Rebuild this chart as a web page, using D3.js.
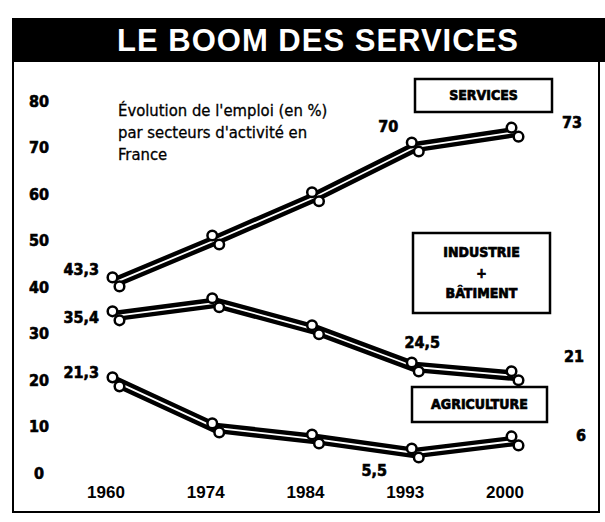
<!DOCTYPE html>
<meta charset="utf-8">
<style type="text/css">
body { margin: 0; background: #fff; }
svg text { fill: #000; }
.g-hed { font-family: 'Liberation Sans', Arial, sans-serif; font-weight: bold; font-size: 31px; letter-spacing: 1px; fill: #fff !important; }
.g-intro { font-family: 'Liberation Sans Narrow', 'DejaVu Sans Condensed', sans-serif; font-size: 16.5px; stroke: #000; stroke-width: 0.3px; }
.tick-y { font-family: 'Liberation Sans Narrow', 'DejaVu Sans Condensed', sans-serif; font-weight: bold; font-size: 16px; stroke: #000; stroke-width: 0.6px; }
.tick-x { font-family: 'Liberation Sans', Arial, sans-serif; font-weight: bold; font-size: 17px; }
.val { font-family: 'Liberation Sans Narrow', 'DejaVu Sans Condensed', sans-serif; font-weight: bold; font-size: 16px; stroke: #000; stroke-width: 0.6px; }
.leg { font-family: 'Liberation Sans Narrow', 'DejaVu Sans Condensed', sans-serif; font-weight: bold; font-size: 14px; stroke: #000; stroke-width: 0.7px; }
</style>
<script src="https://cdnjs.cloudflare.com/ajax/libs/d3/7.8.5/d3.min.js"></script>
<body>
<div class="g-chart"></div>
<script type="text/javascript">

// data
var years = ["1960", "1974", "1984", "1993", "2000"];
var yTicks = [0, 10, 20, 30, 40, 50, 60, 70, 80];
var services = [41.1, 50.1, 59.4, 70.1, 73.3];
var industrie = [33.8, 36.6, 30.8, 22.8, 20.9];
var agriculture = [19.6, 9.7, 7.3, 4.3, 6.9];
var servicesLabels = ["43,3", "", "", "70", "73"];
var industrieLabels = ["35,4", "", "", "24,5", "21"];
var agricultureLabels = ["21,3", "", "", "5,5", "6"];

var width = 605, height = 522;

var svg = d3.select(".g-chart").append("svg")
  .attr("width", width)
  .attr("height", height);

var x = d3.scalePoint().domain(years).range([106, 505]);
var y = d3.scaleLinear().domain([0, 80]).range([473, 101]);

// frame + title bar
svg.append("rect").attr("x", 13).attr("y", 19).attr("width", 586).attr("height", 493)
  .attr("fill", "none").attr("stroke", "#000").attr("stroke-width", 2);
svg.append("rect").attr("x", 12).attr("y", 18).attr("width", 593).attr("height", 44).attr("fill", "#000");
svg.append("text").attr("class", "g-hed").attr("x", 318).attr("y", 51)
  .attr("text-anchor", "middle").text("LE BOOM DES SERVICES");

// intro text
var intro = ["Évolution de l'emploi (en %)", "par secteurs d'activité en", "France"];
svg.selectAll("text.g-intro").data(intro).enter().append("text")
  .attr("class", "g-intro")
  .attr("x", 118)
  .attr("y", function(d, i) { return 116 + i * 22; })
  .text(function(d) { return d; });

// y tick labels
svg.selectAll("text.tick-y").data(yTicks).enter().append("text")
  .attr("class", "tick-y")
  .attr("x", 39)
  .attr("y", function(d) { return y(d); })
  .attr("dy", "0.35em")
  .attr("text-anchor", "middle")
  .text(function(d) { return d; });

// x tick labels
svg.selectAll("text.tick-x").data(years).enter().append("text")
  .attr("class", "tick-x")
  .attr("x", function(d) { return x(d); })
  .attr("y", 498)
  .attr("text-anchor", "middle")
  .text(function(d) { return d; });

// ribbons
var series = [
  { values: services, labels: servicesLabels,
    offs: [[-17, -12, "end"], null, null, [-27, -21, "middle"], [57, -10, "middle"]] },
  { values: industrie, labels: industrieLabels,
    offs: [[-17, 2, "end"], null, null, [7, -25, "middle"], [59, -19, "middle"]] },
  { values: agriculture, labels: agricultureLabels,
    offs: [[-17, -9, "end"], null, null, [-41, 17, "middle"], [66, -6, "middle"]] }
];

var line = d3.line()
  .x(function(d) { return x(d.year) + 10; })
  .y(function(d) { return y(d.value); });

series.forEach(function(s) {
  var pts = years.map(function(yr, i) { return { year: yr, value: s.values[i], label: s.labels[i], off: s.offs[i] }; });
  var g = svg.append("g");

  g.append("path").datum(pts).attr("d", line)
    .attr("fill", "none").attr("stroke", "#000").attr("stroke-width", 10.5)
    .attr("stroke-linejoin", "round");
  g.append("path").datum(pts).attr("d", line)
    .attr("fill", "none").attr("stroke", "#fff").attr("stroke-width", 1.8)
    .attr("stroke-linejoin", "round");

  // back circles then front circles
  g.selectAll("circle.back").data(pts).enter().append("circle")
    .attr("cx", function(d) { return x(d.year) + 13.5; })
    .attr("cy", function(d) { return y(d.value) + 4.5; })
    .attr("r", 4.8)
    .attr("fill", "#fff").attr("stroke", "#000").attr("stroke-width", 2.5);
  g.selectAll("circle.front").data(pts).enter().append("circle")
    .attr("cx", function(d) { return x(d.year) + 6.5; })
    .attr("cy", function(d) { return y(d.value) - 4.5; })
    .attr("r", 4.8)
    .attr("fill", "#fff").attr("stroke", "#000").attr("stroke-width", 2.5);

  // value labels
  g.selectAll("text.val").data(pts.filter(function(d) { return d.label; })).enter().append("text")
    .attr("class", "val")
    .attr("x", function(d) { return x(d.year) + 10 + d.off[0]; })
    .attr("y", function(d) { return y(d.value) + d.off[1]; })
    .attr("dy", "0.35em")
    .attr("text-anchor", function(d) { return d.off[2]; })
    .text(function(d) { return d.label; });
});

// legend boxes
var boxes = [
  { x: 415, y: 79, w: 137, h: 33, lines: ["SERVICES"] },
  { x: 413, y: 233, w: 137, h: 80, lines: ["INDUSTRIE", "+", "BÂTIMENT"] },
  { x: 412, y: 387, w: 135, h: 35, lines: ["AGRICULTURE"] }
];
boxes.forEach(function(b) {
  svg.append("rect").attr("x", b.x).attr("y", b.y).attr("width", b.w).attr("height", b.h)
    .attr("fill", "#fff").attr("stroke", "#000").attr("stroke-width", 2.5);
  var step = 20.5;
  var top = b.y + b.h / 2 - (b.lines.length - 1) * step / 2;
  b.lines.forEach(function(t, i) {
    svg.append("text").attr("class", "leg")
      .attr("x", b.x + b.w / 2)
      .attr("y", top + i * step)
      .attr("dy", "0.35em")
      .attr("text-anchor", "middle")
      .text(t);
  });
});

</script>
</body>
